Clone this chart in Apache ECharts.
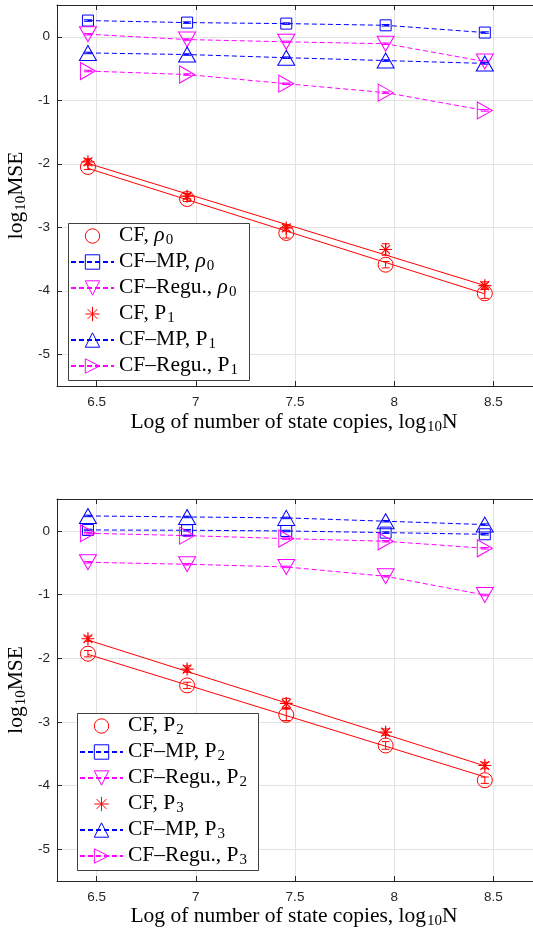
<!DOCTYPE html>
<html>
<head>
<meta charset="utf-8">
<script src="https://cdn.jsdelivr.net/npm/echarts@6/dist/echarts.min.js"></script>
<style>
  html, body { margin: 0; padding: 0; background: #fff; }
  #chart { width: 533px; height: 930px; }
</style>
</head>
<body>
<div id="chart"></div>
<script>
// x positions: log10 N
const logN = [6.456, 6.956, 7.456, 7.957, 8.457]
const xTicks = [6.5, 7, 7.5, 8, 8.5]
const yTicks = [0, -1, -2, -3, -4, -5]

// top panel
const cfRho0 = [-2.05, -2.555, -3.09, -3.59, -4.04]
const cfRho0Err = [0.04, 0.04, 0.08, 0.05, 0.08]
const mpRho0 = [0.255, 0.223, 0.207, 0.18, 0.066]
const reguRho0 = [0.04, -0.044, -0.08, -0.11, -0.39]
const cfP1 = [-1.97, -2.51, -3.01, -3.35, -3.92]
const cfP1Err = [0.05, 0.04, 0.05, 0.09, 0.06]
const mpP1 = [-0.255, -0.28, -0.33, -0.375, -0.42]
const reguP1 = [-0.54, -0.595, -0.74, -0.88, -1.16]
const fitRho0 = [-2.072, -4.049]
const fitP1 = [-1.994, -3.918]

// bottom panel
const cfP2 = [-1.93, -2.428, -2.89, -3.371, -3.917]
const cfP2Err = [0.05, 0.05, 0.09, 0.06, 0.05]
const mpP2 = [0.014, 0.009, -0.002, -0.028, -0.054]
const reguP2 = [-0.494, -0.525, -0.567, -0.714, -1.008]
const cfP3 = [-1.695, -2.171, -2.711, -3.162, -3.686]
const cfP3Err = [0.04, 0.05, 0.08, 0.05, 0.05]
const mpP3 = [0.234, 0.218, 0.203, 0.151, 0.098]
const reguP3 = [-0.038, -0.075, -0.122, -0.164, -0.274]
const fitP2 = [-1.94, -3.865]
const fitP3 = [-1.715, -3.692]

const smallErr = [0.012, 0.012, 0.012, 0.012, 0.012]

const RED = '#ff0000'
const BLUE = '#0000ff'
const MAG = '#ff00ff'
const AX = '#262626'
const SERIF = 'Liberation Serif'
const SANS = 'Liberation Sans'

const SYM = {
  circle: ['circle', 15],
  square: ['rect', 11],
  down: ['path://M0,0L10,0L5,9Z', [17, 15]],
  up: ['path://M5,0L10,9L0,9Z', [17, 15]],
  right: ['path://M0,0L9,5L0,10Z', [15, 17]],
  star: ['path://M5,0L5,10M0,5L10,5M1.6,1.6L8.4,8.4M8.4,1.6L1.6,8.4', 13],
}

const richStyles = {
  m: { fontFamily: SERIF, fontSize: 21.5, color: '#000', verticalAlign: 'top' },
  i: { fontFamily: SERIF, fontSize: 21.5, color: '#000', fontStyle: 'italic', verticalAlign: 'top' },
  s: { fontFamily: SERIF, fontSize: 15, color: '#000', verticalAlign: 'top', padding: [9, 0, 0, 1] },
}

// legend label text with subscripts
const legendLabel = {
  'CF, ρ0': '{m|CF, }{i|ρ}{s|0}',
  'CF–MP, ρ0': '{m|CF–MP, }{i|ρ}{s|0}',
  'CF–Regu., ρ0': '{m|CF–Regu., }{i|ρ}{s|0}',
  'CF, P1': '{m|CF, P}{s|1}',
  'CF–MP, P1': '{m|CF–MP, P}{s|1}',
  'CF–Regu., P1': '{m|CF–Regu., P}{s|1}',
  'CF, P2': '{m|CF, P}{s|2}',
  'CF–MP, P2': '{m|CF–MP, P}{s|2}',
  'CF–Regu., P2': '{m|CF–Regu., P}{s|2}',
  'CF, P3': '{m|CF, P}{s|3}',
  'CF–MP, P3': '{m|CF–MP, P}{s|3}',
  'CF–Regu., P3': '{m|CF–Regu., P}{s|3}',
}

const series = []

function addData(g, name, ys, errs, color, sym, dashed) {
  series.push({
    type: 'line',
    name: name,
    xAxisIndex: g * 2,
    yAxisIndex: g,
    data: logN.map((x, i) => [x, ys[i]]),
    symbol: SYM[sym][0],
    symbolSize: SYM[sym][1],
    showSymbol: true,
    lineStyle: { color: color, width: dashed ? 1 : 0, type: dashed ? [5, 3] : 'solid' },
    itemStyle: { color: 'rgba(0,0,0,0)', borderColor: color, borderWidth: sym === 'star' ? 1.2 : 1 },
    emphasis: { disabled: true },
    z: 3,
  })
  // error bars
  series.push({
    type: 'custom',
    xAxisIndex: g * 2,
    yAxisIndex: g,
    data: logN.map((x, i) => [x, ys[i], errs[i]]),
    encode: { x: 0, y: 1 },
    silent: true,
    z: 3,
    renderItem: (params, api) => {
      const x = api.value(0), y = api.value(1), e = api.value(2)
      const lo = api.coord([x, y - e])
      const hi = api.coord([x, y + e])
      const st = { stroke: color, lineWidth: 1 }
      return {
        type: 'group',
        children: [
          { type: 'line', shape: { x1: lo[0], y1: lo[1], x2: hi[0], y2: hi[1] }, style: st },
          { type: 'line', shape: { x1: lo[0] - 4, y1: lo[1], x2: lo[0] + 4, y2: lo[1] }, style: st },
          { type: 'line', shape: { x1: hi[0] - 4, y1: hi[1], x2: hi[0] + 4, y2: hi[1] }, style: st },
        ],
      }
    },
  })
}

function addFit(g, fit) {
  series.push({
    type: 'line',
    xAxisIndex: g * 2,
    yAxisIndex: g,
    data: [[logN[0], fit[0]], [logN[logN.length - 1], fit[1]]],
    symbol: 'none',
    lineStyle: { color: RED, width: 1 },
    emphasis: { disabled: true },
    silent: true,
    z: 2,
  })
}

// top
addFit(0, fitRho0)
addFit(0, fitP1)
addData(0, 'CF, ρ0', cfRho0, cfRho0Err, RED, 'circle', false)
addData(0, 'CF–MP, ρ0', mpRho0, smallErr, BLUE, 'square', true)
addData(0, 'CF–Regu., ρ0', reguRho0, smallErr, MAG, 'down', true)
addData(0, 'CF, P1', cfP1, cfP1Err, RED, 'star', false)
addData(0, 'CF–MP, P1', mpP1, smallErr, BLUE, 'up', true)
addData(0, 'CF–Regu., P1', reguP1, smallErr, MAG, 'right', true)
// bottom
addFit(1, fitP2)
addFit(1, fitP3)
addData(1, 'CF, P2', cfP2, cfP2Err, RED, 'circle', false)
addData(1, 'CF–MP, P2', mpP2, smallErr, BLUE, 'square', true)
addData(1, 'CF–Regu., P2', reguP2, smallErr, MAG, 'down', true)
addData(1, 'CF, P3', cfP3, cfP3Err, RED, 'star', false)
addData(1, 'CF–MP, P3', mpP3, smallErr, BLUE, 'up', true)
addData(1, 'CF–Regu., P3', reguP3, smallErr, MAG, 'right', true)

const grids = [
  { left: 57, top: 5, width: 485, height: 381 },
  { left: 57, top: 499, width: 485, height: 382 },
]

function tickFmt(list) {
  return (v) => (list.some((t) => Math.abs(t - v) < 1e-6) ? String(v) : '')
}

const xAxes = []
const yAxes = []
grids.forEach((gr, g) => {
  xAxes.push({
    type: 'value', gridIndex: g, min: 6.3, max: 8.7, minInterval: 0.5, maxInterval: 0.5,
    axisLine: { show: true, onZero: false, lineStyle: { color: AX, width: 1 } },
    axisTick: { inside: true, length: 5, lineStyle: { color: AX } },
    axisLabel: { formatter: tickFmt(xTicks), color: AX, fontFamily: SANS, fontSize: 13.5, margin: 9,
      showMinLabel: false, showMaxLabel: false },
    splitLine: { show: true, lineStyle: { color: '#e3e3e3', width: 1 } },
  })
  xAxes.push({
    type: 'value', gridIndex: g, position: 'top', min: 6.3, max: 8.7, minInterval: 0.5, maxInterval: 0.5,
    axisLine: { show: true, onZero: false, lineStyle: { color: AX, width: 1 } },
    axisTick: { inside: true, length: 5, lineStyle: { color: AX } },
    axisLabel: { show: false },
    splitLine: { show: false },
  })
  yAxes.push({
    type: 'value', gridIndex: g, min: -5.5, max: 0.5, minInterval: 1, maxInterval: 1, splitNumber: 6,
    axisLine: { show: true, onZero: false, lineStyle: { color: AX, width: 1 } },
    axisTick: { inside: true, length: 5, lineStyle: { color: AX } },
    axisLabel: { formatter: tickFmt(yTicks), color: AX, fontFamily: SANS, fontSize: 13.5, margin: 7,
      showMinLabel: false, showMaxLabel: false },
    splitLine: { show: true, lineStyle: { color: '#e3e3e3', width: 1 } },
  })
})

function legendFor(names, left, top) {
  return {
    data: names,
    orient: 'vertical',
    left: left,
    top: top,
    padding: 0,
    itemGap: 2,
    itemWidth: 43,
    itemHeight: 18,
    selectedMode: false,
    itemStyle: { borderWidth: 1 },
    formatter: (n) => legendLabel[n],
    textStyle: { rich: richStyles },
    z: 5,
  }
}

const legends = [
  legendFor(['CF, ρ0', 'CF–MP, ρ0', 'CF–Regu., ρ0', 'CF, P1', 'CF–MP, P1', 'CF–Regu., P1'], 70, 224),
  legendFor(['CF, P2', 'CF–MP, P2', 'CF–Regu., P2', 'CF, P3', 'CF–MP, P3', 'CF–Regu., P3'], 79, 714),
]

const xTitle = '{m|Log of number of state copies, log}{s|10}{m|N}'
const yTitle = '{m|log}{s|10}{m|MSE}'

const graphic = [
  { type: 'rect', shape: { x: 68.5, y: 223.5, width: 181, height: 157 }, style: { fill: '#fff', stroke: '#404040', lineWidth: 1 }, z: 4 },
  { type: 'rect', shape: { x: 77.5, y: 713.5, width: 181, height: 157 }, style: { fill: '#fff', stroke: '#404040', lineWidth: 1 }, z: 4 },
  { type: 'text', x: 294, y: 411, style: { text: xTitle, rich: richStyles, align: 'center', verticalAlign: 'top' } },
  { type: 'text', x: 294, y: 905, style: { text: xTitle, rich: richStyles, align: 'center', verticalAlign: 'top' } },
  { type: 'text', x: 5, y: 195.5, rotation: Math.PI / 2, style: { text: yTitle, rich: richStyles, align: 'center', verticalAlign: 'top' } },
  { type: 'text', x: 5, y: 690, rotation: Math.PI / 2, style: { text: yTitle, rich: richStyles, align: 'center', verticalAlign: 'top' } },
]

const chart = echarts.init(document.getElementById('chart'))
chart.setOption({
  animation: false,
  backgroundColor: '#fff',
  grid: grids,
  xAxis: xAxes,
  yAxis: yAxes,
  legend: legends,
  graphic: graphic,
  series: series,
})
</script>
</body>
</html>
